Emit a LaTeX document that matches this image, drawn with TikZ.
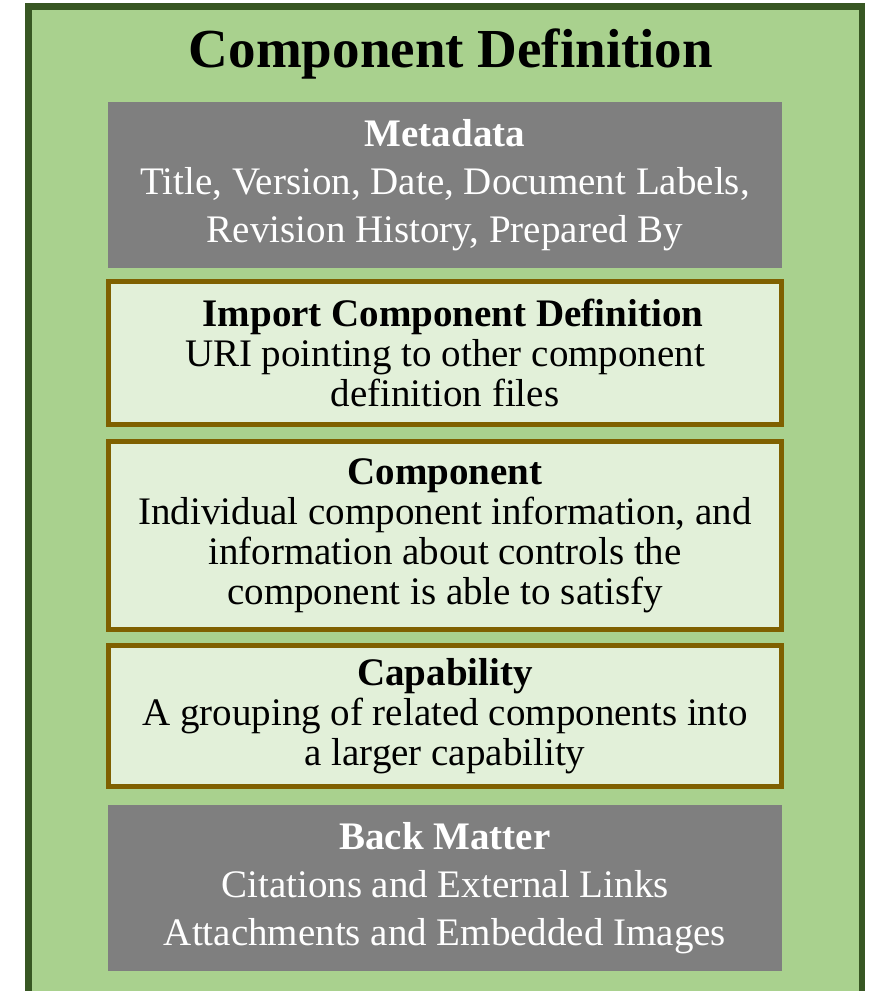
\documentclass[tikz,border=0pt]{standalone}
\usepackage{fontspec}
\setmainfont{Liberation Serif}
\usepackage{xcolor}
\usepackage{tikz}
\usetikzlibrary{positioning}
\definecolor{cdgreen}{HTML}{A9D18E}
\definecolor{cddark}{HTML}{385723}
\definecolor{cdgrey}{HTML}{7F7F7F}
\definecolor{cdgold}{HTML}{7F6000}
\definecolor{cdpale}{HTML}{E2F0D9}

\begin{document}
\begin{tikzpicture}[x=1pt,y=-1pt,
  frame/.style={draw=cddark,fill=cdgreen,line width=6.5pt},
  title/.style={font=\fontsize{55}{60}\selectfont\bfseries},
  greybox/.style={fill=cdgrey,text=white,outer sep=0pt,
                  minimum width=674pt,minimum height=166pt,align=center,
                  font=\fontsize{39}{48}\selectfont},
  partbox/.style={draw=cdgold,fill=cdpale,line width=5pt,
                  minimum width=673pt,align=center,
                  font=\fontsize{39}{40}\selectfont}]
\fill[white] (0,0) rectangle (874,991);
\useasboundingbox (0,0) rectangle (874,991);
% outer frame runs past the lower edge
\draw[frame] (28.5,6.5) rectangle (862,1010);
\node[title] (title) at (451,54) {Component Definition};
\node[greybox] (meta) at (445,185)
  {\textbf{Metadata}\\ Title, Version, Date, Document Labels,\\ Revision History, Prepared By};
\node[partbox,minimum height=143pt,below=11pt of meta] (import)
  {\hspace*{16pt}\textbf{Import Component Definition}\\ URI pointing to other component\\ definition files};
\node[partbox,minimum height=188pt,below=12pt of import] (comp)
  {\textbf{Component}\\ Individual component information, and\\ information about controls the\\ component is able to satisfy};
\node[partbox,minimum height=141pt,below=11pt of comp] (capab)
  {\textbf{Capability}\\ A grouping of related components into\\ a larger capability};
\node[greybox,below=16pt of capab] (back)
  {\textbf{Back Matter}\\ Citations and External Links\\ Attachments and Embedded Images};
\end{tikzpicture}
\end{document}
